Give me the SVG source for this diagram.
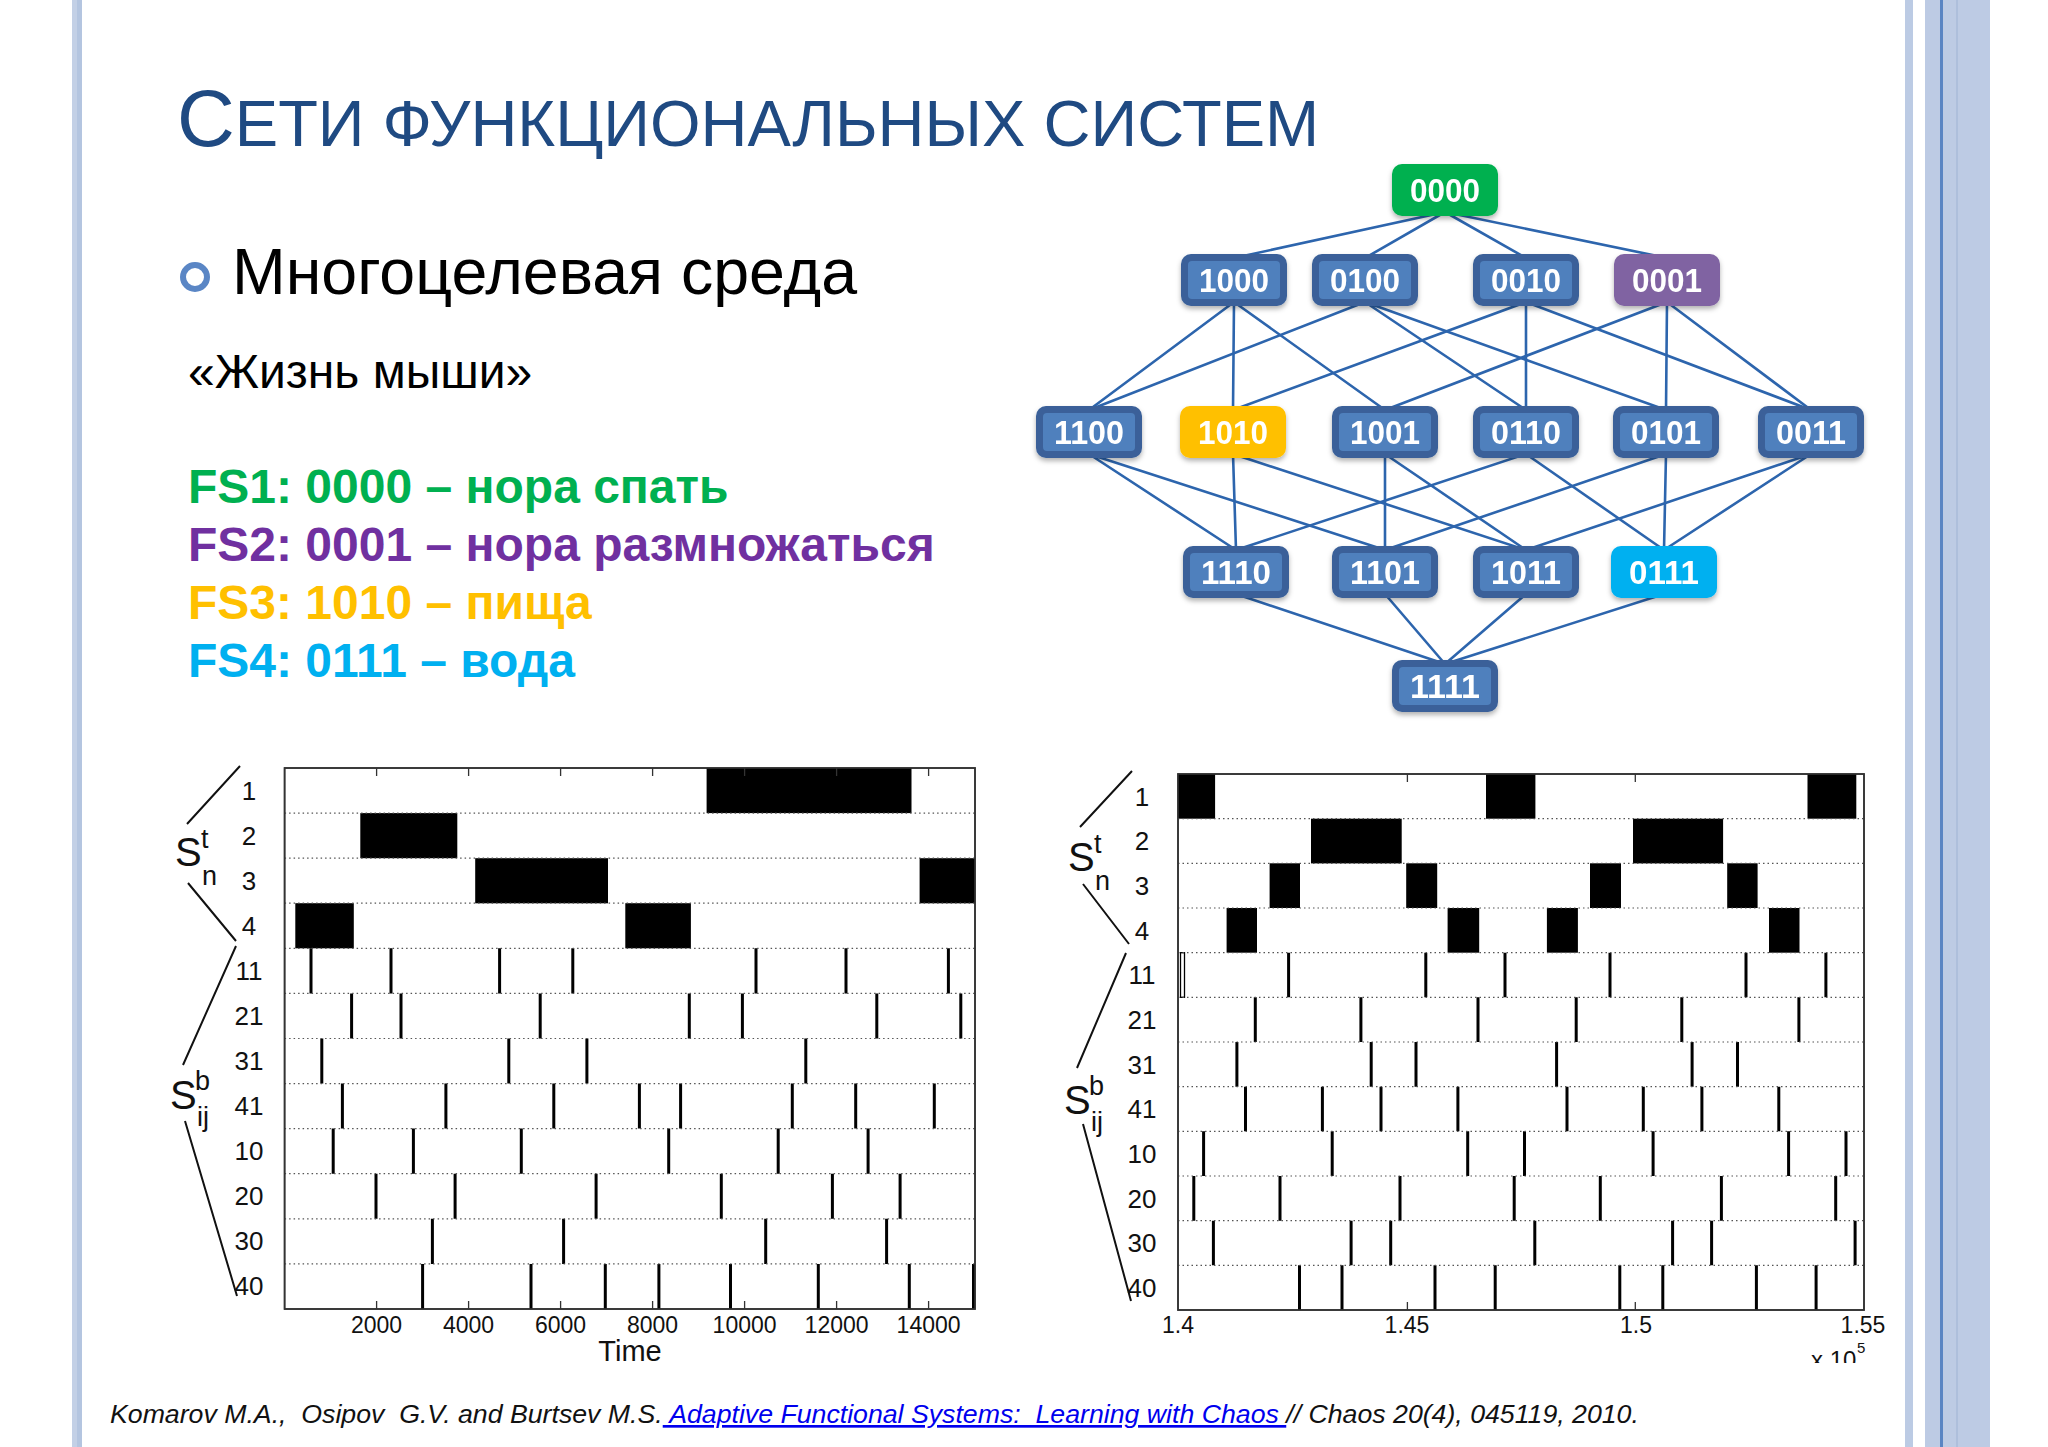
<svg xmlns="http://www.w3.org/2000/svg" width="2048" height="1447" viewBox="0 0 2048 1447">
<style>
.sans{font-family:"Liberation Sans",Arial,sans-serif}
.ttl{font-family:"Liberation Sans",Arial,sans-serif;fill:#1f4a82}
.fs{font-family:"Liberation Sans",Arial,sans-serif;font-weight:bold;font-size:48px}
.nodeTxt{font-family:"Liberation Sans",Arial,sans-serif;font-weight:bold;font-size:33px;fill:#ffffff;text-anchor:middle}
.edge{stroke:#2d65ad;stroke-width:2.6;fill:none;stroke-linecap:round}
.outer{fill:#3b6199}
.inner{fill:#4f80bd}
.sep{stroke:#555;stroke-width:1.2;stroke-dasharray:1.5 3;fill:none}
.box{fill:#ffffff;stroke:#333;stroke-width:1.6}
.spk{stroke:#000;stroke-width:3;fill:none}
.tick{stroke:#333;stroke-width:1.3;fill:none}
.rowlab{font-family:"Liberation Sans",Arial,sans-serif;font-size:26px;fill:#111;text-anchor:middle}
.axlab{font-family:"Liberation Sans",Arial,sans-serif;font-size:23px;fill:#111;text-anchor:middle}
.brk{stroke:#111;stroke-width:2;fill:none}
.S{font-family:"Liberation Sans",Arial,sans-serif;font-size:40px;fill:#111}
.ss{font-family:"Liberation Sans",Arial,sans-serif;font-size:27px;fill:#111}
.foot{font-family:"Liberation Sans",Arial,sans-serif;font-style:italic;font-size:26.7px;fill:#111;white-space:pre}
</style>
<defs>
<filter id="sh" x="-20%" y="-20%" width="140%" height="150%">
<feDropShadow dx="0" dy="3" stdDeviation="2.5" flood-color="#000" flood-opacity="0.3"/>
</filter>
<clipPath id="clipx"><rect x="1780" y="1330" width="120" height="33"/></clipPath>
</defs>

<!-- background and slide decoration -->
<rect x="0" y="0" width="2048" height="1447" fill="#ffffff"/>
<g id="decor">
<rect x="72" y="0" width="10" height="1447" fill="#c3d0e6"/>
<rect x="77" y="0" width="5" height="1447" fill="#b4c5e0"/>
<rect x="1905" y="0" width="8" height="1447" fill="#bccbe4"/>
<rect x="1925" y="0" width="65" height="1447" fill="#bdcbe4"/>
<rect x="1940" y="0" width="3" height="1447" fill="#5a85c3"/>
<rect x="1956" y="0" width="2" height="1447" fill="#aebfdc"/>
</g>

<!-- title -->
<g id="title">
<text class="ttl" x="177" y="146"><tspan font-size="80">С</tspan><tspan font-size="65">ЕТИ ФУНКЦИОНАЛЬНЫХ СИСТЕМ</tspan></text>
</g>

<!-- left text -->
<g id="bullet">
<circle cx="195" cy="277" r="12" fill="none" stroke="#5a86c5" stroke-width="6"/>
<text class="sans" x="232" y="294" font-size="64.5" fill="#000">Многоцелевая среда</text>
</g>
<g id="subtitle">
<text class="sans" x="188" y="388" font-size="48" fill="#000">«Жизнь мыши»</text>
</g>
<g id="legend">
<text class="fs" x="188" y="503" fill="#00b050">FS1: 0000 – нора спать</text>
<text class="fs" x="188" y="561" fill="#7030a0">FS2: 0001 – нора размножаться</text>
<text class="fs" x="188" y="619" fill="#ffc000">FS3: 1010 – пища</text>
<text class="fs" x="188" y="677" fill="#00b0f0">FS4: 0111 – вода</text>
</g>

<!-- network connectors -->
<g id="edges">
<path class="edge" d="M1445 212 L1234 258 M1445 212 L1365 258 M1445 212 L1526 258 M1445 212 L1667 258"/>
<path class="edge" d="M1234 302 L1089 410 M1234 302 L1233 410 M1234 302 L1385 410"/>
<path class="edge" d="M1365 302 L1089 410 M1365 302 L1526 410 M1365 302 L1666 410"/>
<path class="edge" d="M1526 302 L1233 410 M1526 302 L1526 410 M1526 302 L1811 410"/>
<path class="edge" d="M1667 302 L1385 410 M1667 302 L1666 410 M1667 302 L1811 410"/>
<path class="edge" d="M1089 454 L1236 550 M1089 454 L1385 550"/>
<path class="edge" d="M1233 454 L1236 550 M1233 454 L1526 550"/>
<path class="edge" d="M1385 454 L1385 550 M1385 454 L1526 550"/>
<path class="edge" d="M1526 454 L1236 550 M1526 454 L1664 550"/>
<path class="edge" d="M1666 454 L1385 550 M1666 454 L1664 550"/>
<path class="edge" d="M1811 454 L1526 550 M1811 454 L1664 550"/>
<path class="edge" d="M1236 594 L1445 664 M1385 594 L1445 664 M1526 594 L1445 664 M1664 594 L1445 664"/>
</g>

<!-- network nodes -->
<g id="n0000" filter="url(#sh)"><rect x="1392" y="164" width="106" height="52" rx="10" fill="#00b050"/><text class="nodeTxt" x="1445" y="202" textLength="70" lengthAdjust="spacingAndGlyphs">0000</text></g>

<g id="n1000" filter="url(#sh)"><rect class="outer" x="1181" y="254" width="106" height="52" rx="10"/><rect class="inner" x="1188" y="261" width="92" height="38" rx="4"/><text class="nodeTxt" x="1234" y="292" textLength="70" lengthAdjust="spacingAndGlyphs">1000</text></g>
<g id="n0100" filter="url(#sh)"><rect class="outer" x="1312" y="254" width="106" height="52" rx="10"/><rect class="inner" x="1319" y="261" width="92" height="38" rx="4"/><text class="nodeTxt" x="1365" y="292" textLength="70" lengthAdjust="spacingAndGlyphs">0100</text></g>
<g id="n0010" filter="url(#sh)"><rect class="outer" x="1473" y="254" width="106" height="52" rx="10"/><rect class="inner" x="1480" y="261" width="92" height="38" rx="4"/><text class="nodeTxt" x="1526" y="292" textLength="70" lengthAdjust="spacingAndGlyphs">0010</text></g>
<g id="n0001" filter="url(#sh)"><rect x="1614" y="254" width="106" height="52" rx="10" fill="#8064a2"/><text class="nodeTxt" x="1667" y="292" textLength="70" lengthAdjust="spacingAndGlyphs">0001</text></g>

<g id="n1100" filter="url(#sh)"><rect class="outer" x="1036" y="406" width="106" height="52" rx="10"/><rect class="inner" x="1043" y="413" width="92" height="38" rx="4"/><text class="nodeTxt" x="1089" y="444" textLength="70" lengthAdjust="spacingAndGlyphs">1100</text></g>
<g id="n1010" filter="url(#sh)"><rect x="1180" y="406" width="106" height="52" rx="10" fill="#ffc000"/><text class="nodeTxt" x="1233" y="444" textLength="70" lengthAdjust="spacingAndGlyphs">1010</text></g>
<g id="n1001" filter="url(#sh)"><rect class="outer" x="1332" y="406" width="106" height="52" rx="10"/><rect class="inner" x="1339" y="413" width="92" height="38" rx="4"/><text class="nodeTxt" x="1385" y="444" textLength="70" lengthAdjust="spacingAndGlyphs">1001</text></g>
<g id="n0110" filter="url(#sh)"><rect class="outer" x="1473" y="406" width="106" height="52" rx="10"/><rect class="inner" x="1480" y="413" width="92" height="38" rx="4"/><text class="nodeTxt" x="1526" y="444" textLength="70" lengthAdjust="spacingAndGlyphs">0110</text></g>
<g id="n0101" filter="url(#sh)"><rect class="outer" x="1613" y="406" width="106" height="52" rx="10"/><rect class="inner" x="1620" y="413" width="92" height="38" rx="4"/><text class="nodeTxt" x="1666" y="444" textLength="70" lengthAdjust="spacingAndGlyphs">0101</text></g>
<g id="n0011" filter="url(#sh)"><rect class="outer" x="1758" y="406" width="106" height="52" rx="10"/><rect class="inner" x="1765" y="413" width="92" height="38" rx="4"/><text class="nodeTxt" x="1811" y="444" textLength="70" lengthAdjust="spacingAndGlyphs">0011</text></g>

<g id="n1110" filter="url(#sh)"><rect class="outer" x="1183" y="546" width="106" height="52" rx="10"/><rect class="inner" x="1190" y="553" width="92" height="38" rx="4"/><text class="nodeTxt" x="1236" y="584" textLength="70" lengthAdjust="spacingAndGlyphs">1110</text></g>
<g id="n1101" filter="url(#sh)"><rect class="outer" x="1332" y="546" width="106" height="52" rx="10"/><rect class="inner" x="1339" y="553" width="92" height="38" rx="4"/><text class="nodeTxt" x="1385" y="584" textLength="70" lengthAdjust="spacingAndGlyphs">1101</text></g>
<g id="n1011" filter="url(#sh)"><rect class="outer" x="1473" y="546" width="106" height="52" rx="10"/><rect class="inner" x="1480" y="553" width="92" height="38" rx="4"/><text class="nodeTxt" x="1526" y="584" textLength="70" lengthAdjust="spacingAndGlyphs">1011</text></g>
<g id="n0111" filter="url(#sh)"><rect x="1611" y="546" width="106" height="52" rx="10" fill="#00b0f0"/><text class="nodeTxt" x="1664" y="584" textLength="70" lengthAdjust="spacingAndGlyphs">0111</text></g>

<g id="n1111" filter="url(#sh)"><rect class="outer" x="1392" y="660" width="106" height="52" rx="10"/><rect class="inner" x="1399" y="667" width="92" height="38" rx="4"/><text class="nodeTxt" x="1445" y="698" textLength="70" lengthAdjust="spacingAndGlyphs">1111</text></g>

<!-- left raster chart -->
<g id="chartLeft">
<rect class="box" x="284.6" y="768" width="690.4" height="541"/>
<g fill="#000">
<rect x="706.6" y="768" width="204.9" height="45.1"/>
<rect x="360.3" y="813.1" width="97" height="45.1"/>
<rect x="475.2" y="858.2" width="132.8" height="45.1"/>
<rect x="919.6" y="858.2" width="55.4" height="45.1"/>
<rect x="295.3" y="903.2" width="58.5" height="45.1"/>
<rect x="625.3" y="903.2" width="65.6" height="45.1"/>
</g>
<path class="spk" d="M311 948.3V993.4M391 948.3V993.4M499.6 948.3V993.4M572.8 948.3V993.4M756 948.3V993.4M846 948.3V993.4M948.4 948.3V993.4"/>
<path class="spk" d="M351.6 993.4V1038.5M401 993.4V1038.5M540.2 993.4V1038.5M689.3 993.4V1038.5M742.4 993.4V1038.5M876.8 993.4V1038.5M960.8 993.4V1038.5"/>
<path class="spk" d="M321.8 1038.5V1083.6M508.8 1038.5V1083.6M586.9 1038.5V1083.6M805.8 1038.5V1083.6"/>
<path class="spk" d="M342.4 1083.6V1128.6M445.9 1083.6V1128.6M553.8 1083.6V1128.6M639.4 1083.6V1128.6M680.6 1083.6V1128.6M792.3 1083.6V1128.6M855.7 1083.6V1128.6M934.3 1083.6V1128.6"/>
<path class="spk" d="M333.2 1128.6V1173.7M413.4 1128.6V1173.7M521.3 1128.6V1173.7M668.7 1128.6V1173.7M778.2 1128.6V1173.7M868.1 1128.6V1173.7"/>
<path class="spk" d="M376 1173.7V1218.8M455.1 1173.7V1218.8M596.1 1173.7V1218.8M721.3 1173.7V1218.8M832.4 1173.7V1218.8M900.1 1173.7V1218.8"/>
<path class="spk" d="M432.4 1218.8V1263.9M563.6 1218.8V1263.9M765.7 1218.8V1263.9M886.6 1218.8V1263.9"/>
<path class="spk" d="M422.6 1263.9V1309M531 1263.9V1309M605.3 1263.9V1309M658.9 1263.9V1309M730.5 1263.9V1309M818.3 1263.9V1309M909.3 1263.9V1309M973.5 1263.9V1309"/>
<path class="sep" d="M284.6 813.1H975M284.6 858.2H975M284.6 903.2H975M284.6 948.3H975M284.6 993.4H975M284.6 1038.5H975M284.6 1083.6H975M284.6 1128.6H975M284.6 1173.7H975M284.6 1218.8H975M284.6 1263.9H975"/>
<path class="tick" d="M376.6 768v8M468.6 768v8M560.6 768v8M652.6 768v8M744.6 768v8M836.6 768v8M928.6 768v8M376.6 1309v-8M468.6 1309v-8M560.6 1309v-8M652.6 1309v-8M744.6 1309v-8M836.6 1309v-8M928.6 1309v-8"/>
<rect x="284.6" y="768" width="690.4" height="541" fill="none" stroke="#333" stroke-width="1.6"/>
<text class="axlab" x="376.6" y="1333">2000</text>
<text class="axlab" x="468.6" y="1333">4000</text>
<text class="axlab" x="560.6" y="1333">6000</text>
<text class="axlab" x="652.6" y="1333">8000</text>
<text class="axlab" x="744.6" y="1333">10000</text>
<text class="axlab" x="836.6" y="1333">12000</text>
<text class="axlab" x="928.6" y="1333">14000</text>
<text class="sans" x="630" y="1361" font-size="29" fill="#111" text-anchor="middle">Time</text>
<text class="rowlab" x="249" y="800">1</text>
<text class="rowlab" x="249" y="845">2</text>
<text class="rowlab" x="249" y="890">3</text>
<text class="rowlab" x="249" y="935">4</text>
<text class="rowlab" x="249" y="980">11</text>
<text class="rowlab" x="249" y="1025">21</text>
<text class="rowlab" x="249" y="1070">31</text>
<text class="rowlab" x="249" y="1115">41</text>
<text class="rowlab" x="249" y="1160">10</text>
<text class="rowlab" x="249" y="1205">20</text>
<text class="rowlab" x="249" y="1250">30</text>
<text class="rowlab" x="249" y="1295">40</text>
<path class="brk" d="M240 766L187 824M188 883L236 941M236 946L183 1065M185 1121L237 1296"/>
<text class="S" x="175" y="866">S</text><text class="ss" x="201" y="848">t</text><text class="ss" x="202" y="885">n</text>
<text class="S" x="170" y="1109">S</text><text class="ss" x="195" y="1090">b</text><text class="ss" x="197" y="1126">ij</text>
</g>

<!-- right raster chart -->
<g id="chartRight">
<rect class="box" x="1178" y="774" width="686" height="536"/>
<g fill="#000">
<rect x="1178" y="774" width="37.1" height="44.7"/>
<rect x="1486" y="774" width="49.4" height="44.7"/>
<rect x="1807.5" y="774" width="48.8" height="44.7"/>
<rect x="1311" y="818.7" width="90.7" height="44.7"/>
<rect x="1633" y="818.7" width="90.1" height="44.7"/>
<rect x="1269.6" y="863.3" width="30.4" height="44.7"/>
<rect x="1406.2" y="863.3" width="31" height="44.7"/>
<rect x="1590" y="863.3" width="31" height="44.7"/>
<rect x="1727.2" y="863.3" width="30.4" height="44.7"/>
<rect x="1226.6" y="908" width="30.4" height="44.7"/>
<rect x="1447.6" y="908" width="31.6" height="44.7"/>
<rect x="1546.9" y="908" width="31" height="44.7"/>
<rect x="1769" y="908" width="30.5" height="44.7"/>
</g>
<rect x="1180.5" y="952.7" width="4" height="44.6" fill="#fff" stroke="#000" stroke-width="1.3"/>
<path class="spk" d="M1288.6 952.7V997.3M1425.8 952.7V997.3M1505 952.7V997.3M1610 952.7V997.3M1746 952.7V997.3M1825.9 952.7V997.3"/>
<path class="spk" d="M1255.3 997.3V1042M1360.9 997.3V1042M1478 997.3V1042M1576.2 997.3V1042M1681.8 997.3V1042M1798.9 997.3V1042"/>
<path class="spk" d="M1236.9 1042V1086.7M1371.2 1042V1086.7M1416 1042V1086.7M1556.6 1042V1086.7M1692.1 1042V1086.7M1737.5 1042V1086.7"/>
<path class="spk" d="M1245.5 1086.7V1131.3M1322.4 1086.7V1131.3M1381 1086.7V1131.3M1457.9 1086.7V1131.3M1567 1086.7V1131.3M1643.3 1086.7V1131.3M1701.9 1086.7V1131.3M1778.8 1086.7V1131.3"/>
<path class="spk" d="M1203.6 1131.3V1176M1332.2 1131.3V1176M1467.7 1131.3V1176M1524.5 1131.3V1176M1653.1 1131.3V1176M1788.6 1131.3V1176M1846 1131.3V1176"/>
<path class="spk" d="M1193.8 1176V1220.7M1280 1176V1220.7M1400 1176V1220.7M1514.2 1176V1220.7M1600.3 1176V1220.7M1721.4 1176V1220.7M1835.7 1176V1220.7"/>
<path class="spk" d="M1213.4 1220.7V1265.3M1351.1 1220.7V1265.3M1390.7 1220.7V1265.3M1534.8 1220.7V1265.3M1672.6 1220.7V1265.3M1711.6 1220.7V1265.3M1855.1 1220.7V1265.3"/>
<path class="spk" d="M1299.5 1265.3V1310M1342 1265.3V1310M1435 1265.3V1310M1495.2 1265.3V1310M1619.8 1265.3V1310M1662.8 1265.3V1310M1756.4 1265.3V1310M1816.1 1265.3V1310"/>
<path class="sep" d="M1178 818.7H1864M1178 863.3H1864M1178 908H1864M1178 952.7H1864M1178 997.3H1864M1178 1042H1864M1178 1086.7H1864M1178 1131.3H1864M1178 1176H1864M1178 1220.7H1864M1178 1265.3H1864"/>
<path class="tick" d="M1407.4 774v8M1635.3 774v8M1407.4 1310v-8M1635.3 1310v-8"/>
<rect x="1178" y="774" width="686" height="536" fill="none" stroke="#333" stroke-width="1.6"/>
<text class="axlab" x="1178" y="1333">1.4</text>
<text class="axlab" x="1407" y="1333">1.45</text>
<text class="axlab" x="1636" y="1333">1.5</text>
<text class="axlab" x="1863" y="1333">1.55</text>
<g clip-path="url(#clipx)"><text class="sans" x="1811" y="1368" font-size="24" fill="#111">x 10</text></g>
<text class="sans" x="1857" y="1353" font-size="15" fill="#111">5</text>
<text class="rowlab" x="1142" y="806">1</text>
<text class="rowlab" x="1142" y="850">2</text>
<text class="rowlab" x="1142" y="895">3</text>
<text class="rowlab" x="1142" y="940">4</text>
<text class="rowlab" x="1142" y="984">11</text>
<text class="rowlab" x="1142" y="1029">21</text>
<text class="rowlab" x="1142" y="1074">31</text>
<text class="rowlab" x="1142" y="1118">41</text>
<text class="rowlab" x="1142" y="1163">10</text>
<text class="rowlab" x="1142" y="1208">20</text>
<text class="rowlab" x="1142" y="1252">30</text>
<text class="rowlab" x="1142" y="1297">40</text>
<path class="brk" d="M1132 771L1080 827M1083 884L1129 944M1126 953L1077 1068M1083 1124L1131 1301"/>
<text class="S" x="1068" y="871">S</text><text class="ss" x="1094" y="853">t</text><text class="ss" x="1095" y="890">n</text>
<text class="S" x="1064" y="1114">S</text><text class="ss" x="1089" y="1095">b</text><text class="ss" x="1091" y="1131">ij</text>
</g>

<!-- footer reference -->
<g id="footer">
<text class="foot" x="110" y="1423">Komarov M.A.,  Osipov  G.V. and Burtsev M.S.<tspan fill="#0000ee" text-decoration="underline"> Adaptive Functional Systems:  Learning with Chaos </tspan>// Chaos 20(4), 045119, 2010.</text>
</g>
</svg>
